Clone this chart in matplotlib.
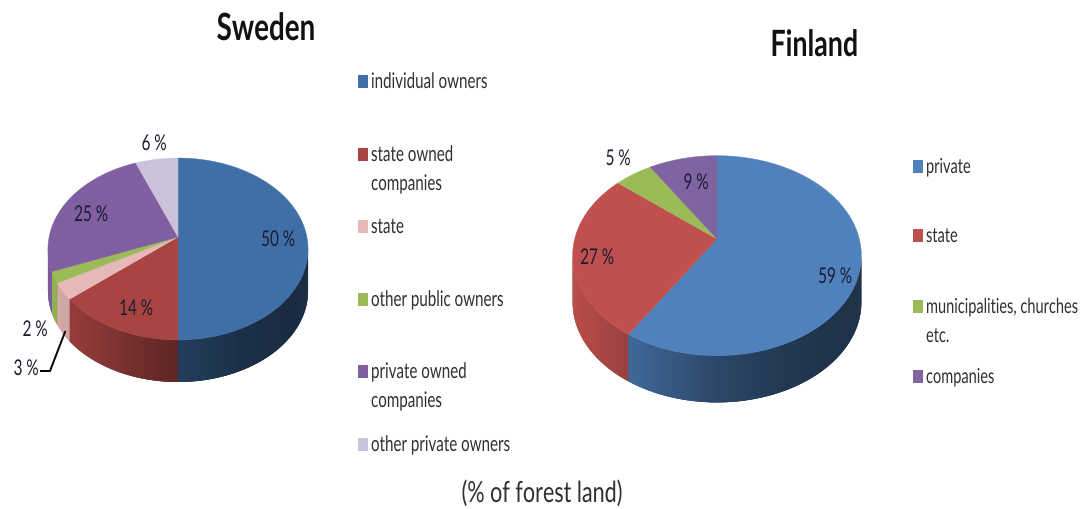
import numpy as np
import matplotlib
matplotlib.use('Agg')
from matplotlib import pyplot as plt
from matplotlib.patches import Rectangle
from matplotlib.patheffects import AbstractPathEffect
from matplotlib.transforms import Affine2D

plt.rcParams['font.family'] = ['Lato', 'DejaVu Sans']

sweden_labels = ['individual owners', 'state owned\ncompanies', 'state', 'other public owners',
                 'private owned\ncompanies', 'other private owners']
sweden_values = [50, 14, 3, 2, 25, 6]
sweden_colors = ['#3f6fa6', '#a84442', '#e6b8b7', '#9bbb59', '#7f5fa0', '#ccc1da']

finland_labels = ['private', 'state', 'municipalities, churches\netc.', 'companies']
finland_values = [59, 27, 5, 9]
finland_colors = ['#4f81bd', '#c0504d', '#9bbb59', '#8064a2']

TEXT = '#303030'


class Tall(AbstractPathEffect):
    # the reference text is squeezed sideways, so stretch a smaller font upwards
    def __init__(self, sy):
        super().__init__()
        self.sy = sy

    def draw_path(self, renderer, gc, tpath, affine, rgbFace=None):
        renderer.draw_path(gc, tpath, Affine2D().scale(1, self.sy) + affine, rgbFace)


def put_text(ax, x, y, s, size, sy=1.42, **kw):
    t = ax.text(x, y, s, fontsize=size, va='baseline', zorder=5, **kw)
    t.set_path_effects([Tall(sy)])
    return t


def shade(color, f):
    return tuple(c * f for c in matplotlib.colors.to_rgb(color))


def rim(t, p):
    # perspective projection of the pie's circle, t clockwise from the top in degrees
    u = np.sin(np.radians(t))
    v = np.cos(np.radians(t))
    w = 1 + p['k'] * v
    return p['cx'] + p['a'] * u / w, p['cy'] - p['b'] * v / w


def pie3d(ax, values, colors, p):
    edges = np.cumsum([0] + values) / sum(values) * 360
    # side wall first, only the part that faces the viewer
    for i, c in enumerate(colors):
        t = edges[i]
        while t < edges[i + 1]:
            t2 = t + 0.25
            if np.cos(np.radians(t)) < -p['k'] or np.cos(np.radians(t2)) < -p['k']:
                # overlap the next step a little so no seams show
                x1, y1 = rim(t, p)
                x2, y2 = rim(t2 + 0.5, p)
                nx = (x1 - p['cx']) / p['a']
                f = np.interp(nx, [-1, -0.6, 0, 0.5, 1], [0.95, 0.8, 0.55, 0.43, 0.38])
                ax.fill([x1, x2, x2, x1], [y1, y2, y2 + p['d'], y1 + p['d']],
                        color=shade(c, f), lw=0, zorder=2)
            t = t2
    # top face
    for i, c in enumerate(colors):
        ts = np.linspace(edges[i], edges[i + 1], 120)
        xs, ys = rim(ts, p)
        ax.fill(np.r_[p['cx'], xs], np.r_[p['cy'], ys], color=c, lw=0.3, zorder=3)


def legend(ax, x, ys, labels, colors, size=10.9):
    for y, lab, c in zip(ys, labels, colors):
        ax.add_patch(Rectangle((x, y - 6.5), 10, 13, color=c, lw=0, zorder=3))
        for j, line in enumerate(lab.split('\n')):
            put_text(ax, x + 13, y + 7 + j * 29, line, size, color=TEXT, ha='left')


fig = plt.figure(figsize=(10.83, 5.10), dpi=100)
ax = fig.add_axes([0, 0, 1, 1])
ax.set_xlim(0, 1083)
ax.set_ylim(510, 0)
ax.axis('off')

pie3d(ax, sweden_values, sweden_colors,
      {'cx': 178, 'cy': 238, 'a': 128.9, 'b': 89.4, 'k': 0.132, 'd': 42})
pie3d(ax, finland_values, finland_colors,
      {'cx': 717, 'cy': 240, 'a': 142.3, 'b': 97.2, 'k': 0.167, 'd': 46.7})

put_text(ax, 266, 41, 'Sweden', 20, sy=1.35, fontweight='bold', color='#111111', ha='center')
put_text(ax, 814, 57, 'Finland', 19.3, sy=1.35, fontweight='bold', color='#111111', ha='center')
put_text(ax, 542, 503, '(% of forest land)', 15.5, sy=1.35, color=TEXT, ha='center')

legend(ax, 358, [82, 155, 227, 300, 372, 445], sweden_labels, sweden_colors)
legend(ax, 913, [167, 236, 307, 377], finland_labels, finland_colors, size=10.5)

sweden_pos = [(278, 247), (136, 316), (26, 376), (35, 337), (91, 222), (154, 151)]
for v, (x, y) in zip(sweden_values, sweden_pos):
    put_text(ax, x, y, '%d %%' % v, 11, color='#1c1c30', ha='center')
finland_pos = [(835, 284), (597, 265), (618, 166), (696, 190)]
for v, (x, y) in zip(finland_values, finland_pos):
    put_text(ax, x, y, '%d %%' % v, 11, color='#1c1c30', ha='center')

ax.plot([65, 50, 41], [333, 372, 372], color='black', lw=1.4, zorder=5)

fig.savefig('out.png', dpi=100)
